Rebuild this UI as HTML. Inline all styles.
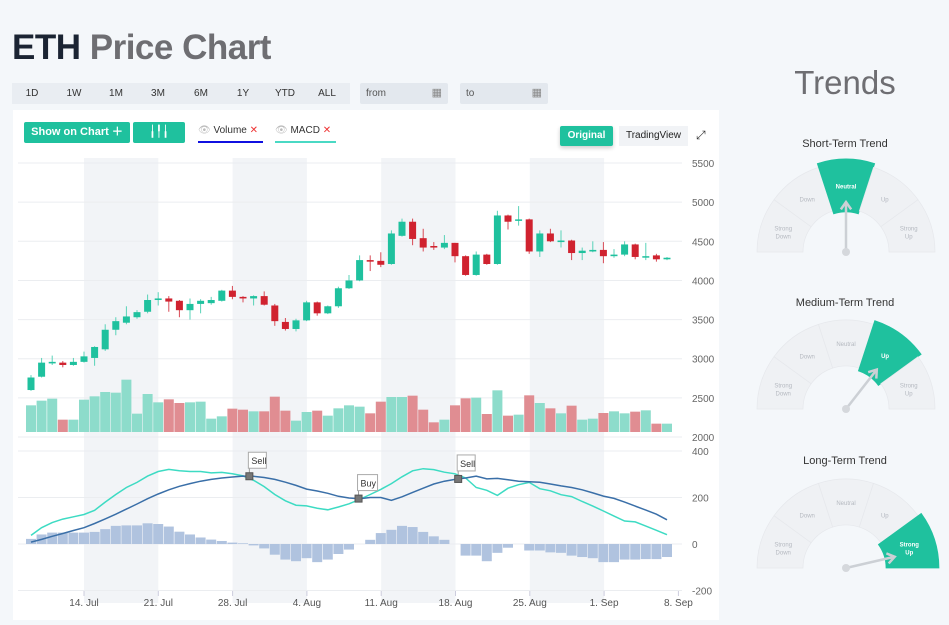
<!DOCTYPE html>
<html><head><meta charset="utf-8">
<style>
body{margin:0;width:949px;height:625px;background:#f4f7fa;font-family:"Liberation Sans",sans-serif;position:relative;overflow:hidden}
.abs{position:absolute}
.title{left:12px;top:28px;font-size:35px;font-weight:bold;color:#6e6e72;letter-spacing:-0.5px}
.title b{color:#1b2433}
.range{left:12px;top:83px;width:338px;height:21px;background:#e9edf2}
.range span{position:absolute;top:5px;font-size:10px;color:#333;transform:translateX(-50%)}
.inp{top:83px;height:21px;background:#e3e8ee;border-radius:2px;font-size:10px;color:#555}
.card{left:13px;top:110px;width:706px;height:510px;background:#fff}
.btn{background:#1fc19e;color:#fff;font-size:11px;font-weight:bold;border-radius:2px;text-align:center}
</style></head><body>
<div class="abs title"><b>ETH</b> Price Chart</div>
<div class="abs range">
<span style="left:20px">1D</span>
<span style="left:62px">1W</span>
<span style="left:104px">1M</span>
<span style="left:146px">3M</span>
<span style="left:189px">6M</span>
<span style="left:231px">1Y</span>
<span style="left:273px">YTD</span>
<span style="left:315px">ALL</span>
</div>
<div class="abs inp" style="left:360px;width:88px"><span style="position:absolute;left:6px;top:5px">from</span><span style="position:absolute;right:6px;top:3px;font-size:11px;color:#888">▦</span></div>
<div class="abs inp" style="left:460px;width:88px"><span style="position:absolute;left:6px;top:5px">to</span><span style="position:absolute;right:6px;top:3px;font-size:11px;color:#888">▦</span></div>
<div class="abs card"></div>
<div class="abs btn" style="left:24px;top:122px;width:106px;height:21px;line-height:21px">Show on Chart ＋</div>
<div class="abs btn" style="left:133px;top:122px;width:52px;height:21px;line-height:21px;font-weight:normal">╽╿╽</div>
<div class="abs" style="left:198px;top:125px;width:65px;height:16px;border-bottom:2px solid #1010e0;font-size:10px;color:#333"><span style="color:#bbb">👁</span> Volume <span style="color:#e33">✕</span></div>
<div class="abs" style="left:275px;top:125px;width:61px;height:16px;border-bottom:2px solid #4ad9c4;font-size:10px;color:#333"><span style="color:#bbb">👁</span> MACD <span style="color:#e33">✕</span></div>
<div class="abs btn" style="left:560px;top:126px;width:53px;height:20px;line-height:20px;font-size:10px;box-shadow:0 2px 4px rgba(0,0,0,.2)">Original</div>
<div class="abs" style="left:619px;top:126px;width:69px;height:20px;line-height:20px;font-size:10px;background:#f1f3f6;text-align:center;color:#222">TradingView</div>
<div class="abs" style="left:696px;top:128px;font-size:12px;color:#333">⤢</div>

<svg class="abs" style="left:0;top:0" width="949" height="625" id="chart"></svg>

<div class="abs" style="left:745px;top:64px;width:200px;text-align:center;font-size:33px;color:#6e6e72">Trends</div>
<svg class="abs" style="left:740px;top:130px" width="209" height="470" id="gauges"></svg>

<script>
const NS='http://www.w3.org/2000/svg';
const tickLabels=['14. Jul','21. Jul','28. Jul','4. Aug','11. Aug','18. Aug','25. Aug','1. Sep','8. Sep'];
const priceTicks=[2000,2500,3000,3500,4000,4500,5000,5500];
const macdTicks=[-200,0,200,400];
const opens=[2600,2770,2940,2950,2920,2960,3010,3120,3370,3460,3530,3600,3750,3770,3740,3620,3700,3710,3740,3870,3790,3770,3800,3680,3470,3380,3490,3720,3580,3670,3900,4000,4260,4250,4210,4570,4750,4540,4440,4420,4480,4310,4070,4330,4210,4830,4770,4780,4370,4600,4490,4510,4350,4370,4390,4310,4330,4460,4300,4320,4270];
const closes=[2760,2950,2960,2920,2960,3030,3150,3370,3480,3540,3595,3750,3770,3730,3620,3700,3740,3750,3870,3790,3770,3800,3690,3480,3380,3490,3720,3580,3670,3900,4000,4260,4240,4200,4600,4750,4530,4420,4420,4480,4310,4070,4330,4210,4830,4750,4780,4370,4600,4500,4510,4350,4380,4390,4310,4330,4460,4300,4310,4270,4290];
const highs=[2790,3010,3040,2970,3010,3090,3160,3440,3530,3670,3620,3820,3850,3800,3750,3770,3760,3790,3880,3930,3800,3810,3860,3700,3520,3510,3740,3730,3680,3920,4070,4320,4320,4360,4640,4790,4790,4660,4490,4580,4480,4320,4370,4340,4890,4840,4950,4790,4640,4660,4640,4520,4420,4500,4490,4400,4500,4470,4480,4340,4300];
const lows=[2590,2760,2920,2890,2910,2950,2910,3100,3300,3440,3510,3580,3680,3600,3530,3500,3580,3690,3730,3760,3720,3680,3680,3420,3360,3350,3480,3550,3570,3650,3890,3990,4120,4170,4200,4560,4450,4370,4390,4400,4230,4060,4060,4200,4200,4650,4700,4340,4300,4490,4420,4260,4260,4360,4220,4290,4310,4270,4260,4240,4260];
const volumes=[80,94,100,37,37,97,107,120,118,157,55,114,89,98,87,89,91,40,47,70,67,62,62,106,64,34,60,64,49,71,80,76,56,91,105,105,109,67,29,37,80,101,103,54,125,49,52,110,87,71,56,79,37,40,57,62,56,61,65,25,25];
const macdLine=[37,70,92,107,117,127,145,180,213,243,265,292,312,321,315,312,312,306,308,302,293,274,247,213,186,167,164,154,147,159,173,192,213,235,260,289,315,324,320,309,302,284,243,231,209,240,255,265,238,229,212,204,183,163,142,120,99,95,77,59,40];
const signalLine=[8,20,33,45,58,70,88,108,128,150,172,195,215,233,248,260,270,278,284,288,292,291,286,278,266,252,236,228,218,205,198,195,200,200,188,203,222,240,258,270,278,284,292,280,282,276,270,268,266,258,250,243,233,220,206,196,180,163,146,128,104];
const histogram=[22,41,49,49,49,49,52,64,78,80,80,89,86,75,53,41,28,19,13,6,3,-6,-19,-46,-67,-74,-61,-78,-67,-43,-24,0,18,47,61,78,73,52,33,18,0,-50,-50,-74,-38,-16,0,-28,-28,-36,-38,-50,-56,-61,-78,-78,-67,-67,-65,-65,-56];
const signalIdx=[20.6,30.9,40.3];
const signalType=['Sell','Buy','Sell'];

const svg=document.getElementById('chart');
function el(tag,attrs,parent){const e=document.createElementNS(NS,tag);for(const k in attrs)e.setAttribute(k,attrs[k]);(parent||svg).appendChild(e);return e;}
const xi=i=>31+i*10.6;
const xTick=k=>84+k*74.3;
const yP=p=>437-(p-2000)*0.07828;
const yV=v=>432-v/3;
const yM=m=>544-m*0.2325;

// shaded bands
for(let k=0;k<8;k+=2){const b=el('rect',{x:xTick(k),y:158,width:74.3,height:445,fill:'#f2f4f7'});

}
// price grid
priceTicks.forEach(p=>{const g=el('line',{x1:18,x2:682,y1:yP(p),y2:yP(p),stroke:'#ebedf0'});


const t=el('text',{x:692,y:yP(p)+4,'font-size':10,fill:'#666'});t.textContent=p;

});
macdTicks.forEach(m=>{const g=el('line',{x1:18,x2:682,y1:yM(m),y2:yM(m),stroke:'#ebedf0'});


const t=el('text',{x:692,y:yM(m)+4,'font-size':10,fill:'#666'});t.textContent=m;

});
// x labels
tickLabels.forEach((l,k)=>{const t=el('text',{x:xTick(k),y:606,'font-size':10,fill:'#555','text-anchor':'middle'});t.textContent=l;


const tk=el('line',{x1:xTick(k),x2:xTick(k),y1:591,y2:596,stroke:'#ccd'});

});
// volume
volumes.forEach((v,i)=>{const up=closes[i]>=opens[i];const r=el('rect',{x:xi(i)-5,y:yV(v),width:10,height:432-yV(v),fill:up?'#8ddccb':'#e08d92'});

});
// candles
opens.forEach((o,i)=>{const c=closes[i],up=c>=o,col=up?'#1fc19e':'#d0222f';
const w=el('line',{x1:xi(i),x2:xi(i),y1:yP(highs[i]),y2:yP(lows[i]),stroke:up?'#59d3b8':'#d84a55','stroke-width':1});


const top=yP(Math.max(o,c)),h=Math.max(1.5,Math.abs(yP(o)-yP(c)));
const b=el('rect',{x:xi(i)-3.5,y:top,width:7,height:h,fill:col});

});
// histogram
histogram.forEach((h,i)=>{if(h===0)return;const y0=yM(0),y1=yM(h);
const r=el('rect',{x:xi(i)-5,y:Math.min(y0,y1),width:10,height:Math.abs(y1-y0),fill:'#b0c3df'});

});
// lines
function path(arr){return arr.map((v,i)=>(i?'L':'M')+xi(i).toFixed(1)+' '+yM(v).toFixed(1)).join(' ');}
const ml=el('path',{d:path(macdLine),fill:'none',stroke:'#3ddbc3','stroke-width':1.5});


const sl=el('path',{d:path(signalLine),fill:'none',stroke:'#3a6fa8','stroke-width':1.5});


// signals
signalIdx.forEach((si,k)=>{const i0=Math.floor(si),f=si-i0;const v=signalLine[i0]*(1-f)+signalLine[i0+1]*f;
const x=xi(si),y=yM(v);
el('line',{x1:x,x2:x,y1:y-8,y2:y,stroke:'#999'});
const bx=el('rect',{x:x-1,y:y-24,width:signalType[k]==='Buy'?20:18,height:16,fill:'#fff',stroke:'#aaa'});


const t=el('text',{x:x+2,y:y-12,'font-size':9,fill:'#333'});t.textContent=signalType[k];


const m=el('rect',{x:x-3.5,y:y-3.5,width:7,height:7,fill:'#777',stroke:'#555'});

});

// gauges
const gs=document.getElementById('gauges');
const gaugeTitles=['Short-Term Trend','Medium-Term Trend','Long-Term Trend'];
const gaugeActive=[2,3,4];
const gaugeAngle=[90,52,13];
const segNames=[['Strong','Down'],['Down'],['Neutral'],['Up'],['Strong','Up']];
function g(tag,a){const e=document.createElementNS(NS,tag);for(const k in a)e.setAttribute(k,a[k]);gs.appendChild(e);return e;}
function pt(cx,cy,r,deg){const a=deg*Math.PI/180;return [cx+r*Math.cos(a),cy-r*Math.sin(a)];}
gaugeTitles.forEach((tt,n)=>{
const cy=[122,279,438][n],cx=106;
const t=g('text',{x:105,y:[17,176,334][n],'font-size':11,fill:'#333','text-anchor':'middle'});t.textContent=tt;


for(let s=0;s<5;s++){const act=s===gaugeActive[n];const ri=act?40:43,ro=act?93:89;
const a0=180-s*36,a1=180-(s+1)*36;
const p1=pt(cx,cy,ro,a0),p2=pt(cx,cy,ro,a1),p3=pt(cx,cy,ri,a1),p4=pt(cx,cy,ri,a0);
const p=g('path',{d:`M${p1} A${ro} ${ro} 0 0 1 ${p2} L${p3} A${ri} ${ri} 0 0 0 ${p4} Z`,fill:act?'#1fc19e':'#eff1f4',stroke:act?'#1fc19e':'#e6e8ec','stroke-width':0.7});


const lp=pt(cx,cy,(ri+ro)/2,a0-18);
segNames[s].forEach((w,j)=>{const tx=g('text',{x:lp[0],y:lp[1]+3+(j-(segNames[s].length-1)/2)*8,'font-size':6,fill:act?'#fff':'#b5b9c0','font-weight':act?'bold':'normal','text-anchor':'middle'});tx.textContent=w;

});}
const tip=pt(cx,cy,50,gaugeAngle[n]);
const nd=g('line',{x1:cx,y1:cy,x2:tip[0],y2:tip[1],stroke:'#ccd0d5','stroke-width':2.5});


const h1=pt(tip[0],tip[1],0,0),la=pt(tip[0],tip[1],9,gaugeAngle[n]+180-35),lb=pt(tip[0],tip[1],9,gaugeAngle[n]+180+35);
g('polyline',{points:`${la} ${tip} ${lb}`,fill:'none',stroke:'#ccd0d5','stroke-width':2.5});
g('circle',{cx:cx,cy:cy,r:4,fill:'#d5d8dc'});
});
</script>
</body></html>
